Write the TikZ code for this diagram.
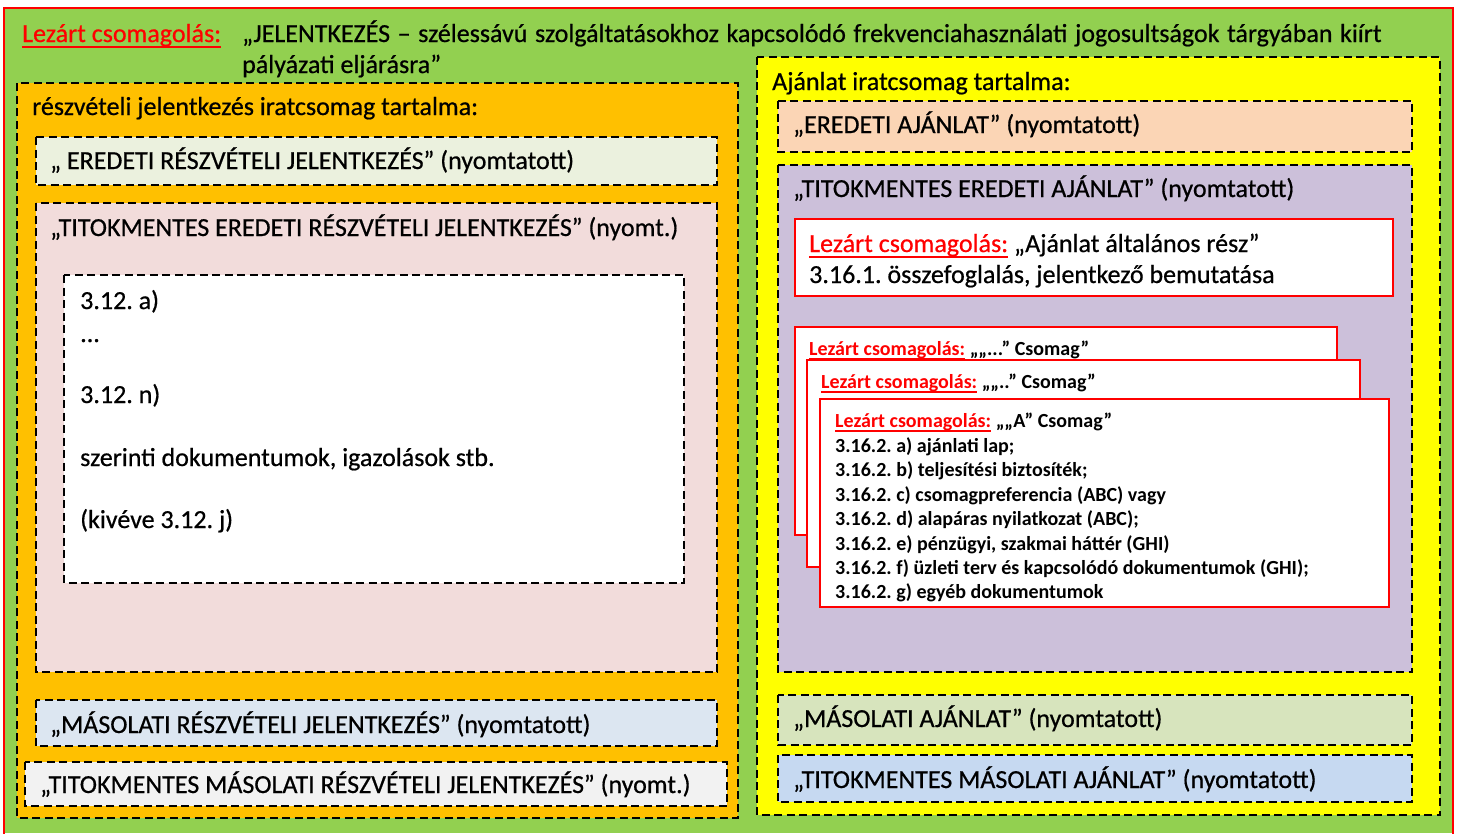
\documentclass[tikz,border=0pt]{standalone}
\usepackage{fontspec}
\setmainfont{Carlito}
\newfontfamily\heavyf{Carlito}[FakeBold=0.6]
\frenchspacing
\definecolor{cgreen}{HTML}{92D050}
\definecolor{corange}{HTML}{FFC000}
\definecolor{cyellow}{HTML}{FFFF00}
\definecolor{cpink}{HTML}{F2DCDB}
\definecolor{clgreen}{HTML}{EBF1DE}
\definecolor{clblue}{HTML}{DCE6F1}
\definecolor{cgray}{HTML}{F2F2F2}
\definecolor{cpeach}{HTML}{FBD5B5}
\definecolor{clav}{HTML}{CCC0DA}
\definecolor{colive}{HTML}{D7E4BD}
\definecolor{cblue}{HTML}{C6D9F1}
\newsavebox\lzbox
\newcommand\lezart{{\color{red}\sbox\lzbox{Lezárt csomagolás:}\rlap{\vrule width\wd\lzbox height -0.16em depth 0.235em}\usebox\lzbox}}
\begin{document}
\begin{tikzpicture}[x=1pt,y=-1pt,
  dbox/.style={draw=black,line width=2.5pt,dash pattern=on 8pt off 4.5pt},
  rbox/.style={draw=red,line width=2.5pt,fill=white},
  txt/.style={anchor=base west,inner sep=0pt,font=\fontsize{26}{31}\heavyf},
  stxt/.style={anchor=base west,inner sep=0pt,font=\fontsize{20}{24}\selectfont\bfseries}]
\useasboundingbox (0,0) rectangle (1459,833);
\fill[white] (0,0) rectangle (1459,833);
\fill[cgreen] (4,8) rectangle (1453,833);
\draw[red,line width=2pt] (4,834) -- (4,8) -- (1453,8) -- (1453,834);

% header
\node[txt] (hl) at (22,42) {\lezart};
\node[txt] (ht1) at (242,42) {\spaceskip=7.6pt plus 2pt „JELENTKEZÉS – szélessávú szolgáltatásokhoz kapcsolódó frekvenciahasználati jogosultságok tárgyában kiírt};
\node[txt] (ht2) at (242,73) {pályázati eljárásra”};

% left column
\path[dbox,fill=corange] (17,83) rectangle (738,818);
\node[txt] (lt) at (32,115) {részvételi jelentkezés iratcsomag tartalma:};
\path[dbox,fill=clgreen] (36,137) rectangle (717,185);
\node[txt] (l1) at (50,169) {„ EREDETI RÉSZVÉTELI JELENTKEZÉS” (nyomtatott)};
\path[dbox,fill=cpink] (36,203) rectangle (717,672);
\node[txt] (l2) at (50,236) {„TITOKMENTES EREDETI RÉSZVÉTELI JELENTKEZÉS” (nyomt.)};
\path[dbox,fill=white] (64,275) rectangle (684,583);
\node[txt] (la) at (80,309) {3.12. a)};
\node[txt] (lb) at (80,342) {...};
\node[txt] (lc) at (80,403) {3.12. n)};
\node[txt] (ld) at (80,466) {szerinti dokumentumok, igazolások stb.};
\node[txt] (le) at (80,528) {(kivéve 3.12. j)};
\path[dbox,fill=clblue] (36,700) rectangle (717,746);
\node[txt] (l3) at (50,733) {„MÁSOLATI RÉSZVÉTELI JELENTKEZÉS” (nyomtatott)};
\path[dbox,fill=cgray] (25,762) rectangle (727,806);
\node[txt] (l4) at (40,793) {„TITOKMENTES MÁSOLATI RÉSZVÉTELI JELENTKEZÉS” (nyomt.)};

% right column
\path[dbox,fill=cyellow] (757,57) rectangle (1440,815);
\node[txt] (rt) at (772,90) {Ajánlat iratcsomag tartalma:};
\path[dbox,fill=cpeach] (778,101) rectangle (1412,152);
\node[txt] (r1) at (793,133) {„EREDETI AJÁNLAT” (nyomtatott)};
\path[dbox,fill=clav] (778,165) rectangle (1412,672);
\node[txt] (r2) at (793,197) {„TITOKMENTES EREDETI AJÁNLAT” (nyomtatott)};
\path[rbox] (795,219) rectangle (1393,296);
\node[txt] (ra1) at (809,252) {\lezart{} „Ajánlat általános rész”};
\node[txt] (ra2) at (809,283) {3.16.1. összefoglalás, jelentkező bemutatása};

\path[rbox] (795,327) rectangle (1337,535);
\node[stxt] (s1) at (809,355) {\lezart{} „„...” Csomag”};
\path[rbox] (807,360) rectangle (1360,567);
\node[stxt] (s2) at (821,388) {\lezart{} „„..” Csomag”};
\path[rbox] (820,399) rectangle (1389,607);
\node[stxt] (s3) at (835,427) {\lezart{} „„A” Csomag”};
\node[stxt] (sa) at (835,452) {3.16.2. a) ajánlati lap;};
\node[stxt] (sb) at (835,476) {3.16.2. b) teljesítési biztosíték;};
\node[stxt] (sc) at (835,501) {3.16.2. c) csomagpreferencia (ABC) vagy};
\node[stxt] (sd) at (835,525) {3.16.2. d) alapáras nyilatkozat (ABC);};
\node[stxt] (se) at (835,550) {3.16.2. e) pénzügyi, szakmai háttér (GHI)};
\node[stxt] (sf) at (835,574) {3.16.2. f) üzleti terv és kapcsolódó dokumentumok (GHI);};
\node[stxt] (sg) at (835,598) {3.16.2. g) egyéb dokumentumok};

\path[dbox,fill=colive] (778,695) rectangle (1412,745);
\node[txt] (r3) at (793,727) {„MÁSOLATI AJÁNLAT” (nyomtatott)};
\path[dbox,fill=cblue] (778,755) rectangle (1412,802);
\node[txt] (r4) at (793,788) {„TITOKMENTES MÁSOLATI AJÁNLAT” (nyomtatott)};
\end{tikzpicture}
\end{document}
